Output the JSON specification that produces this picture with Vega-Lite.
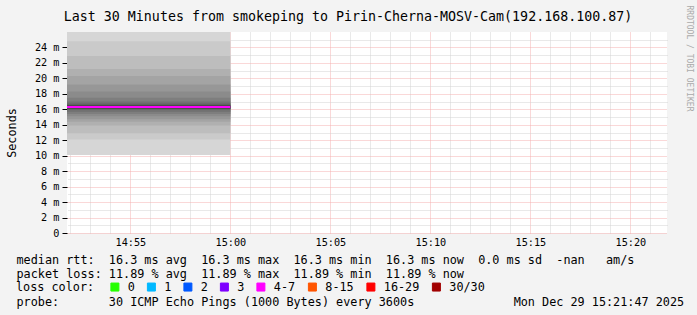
{
  "$schema": "https://vega.github.io/schema/vega-lite/v6.json",
  "width": 600,
  "height": 201,
  "autosize": "none",
  "padding": {"left": 67, "top": 32, "right": 30, "bottom": 82},
  "background": "#f3f3f3",
  "config": {
    "view": {"fill": "#ffffff", "stroke": null},
    "font": "DejaVu Sans Mono",
    "axis": {
      "zindex": 1,
      "labelColor": "#000000",
      "titleColor": "#000000",
      "titleFontWeight": "normal",
      "labelFont": "DejaVu Sans Mono",
      "titleFont": "DejaVu Sans Mono",
      "gridOpacity": 1,
      "domain": false
    }
  },
  "title": {
    "text": "Last 30 Minutes from smokeping to Pirin-Cherna-MOSV-Cam(192.168.100.87)",
    "font": "DejaVu Sans Mono",
    "fontSize": 13.3,
    "fontWeight": "normal",
    "color": "#000000",
    "anchor": "middle",
    "frame": "group",
    "offset": -29,
    "baseline": "alphabetic",
    "dx": -19
  },
  "datasets": {
    "smoke": [
      {"start": "2025-12-29T14:00:00", "end": "2025-12-29T15:00:00", "level": 2, "lo": 10.1, "hi": 27.0},
      {"start": "2025-12-29T14:00:00", "end": "2025-12-29T15:00:00", "level": 3, "lo": 12.1, "hi": 24.8},
      {"start": "2025-12-29T14:00:00", "end": "2025-12-29T15:00:00", "level": 4, "lo": 12.9, "hi": 22.9},
      {"start": "2025-12-29T14:00:00", "end": "2025-12-29T15:00:00", "level": 5, "lo": 13.9, "hi": 21.2},
      {"start": "2025-12-29T14:00:00", "end": "2025-12-29T15:00:00", "level": 6, "lo": 14.4, "hi": 20.3},
      {"start": "2025-12-29T14:00:00", "end": "2025-12-29T15:00:00", "level": 7, "lo": 14.7, "hi": 19.2},
      {"start": "2025-12-29T14:00:00", "end": "2025-12-29T15:00:00", "level": 8, "lo": 15.1, "hi": 18.3},
      {"start": "2025-12-29T14:00:00", "end": "2025-12-29T15:00:00", "level": 9, "lo": 15.4, "hi": 17.5},
      {"start": "2025-12-29T14:00:00", "end": "2025-12-29T15:00:00", "level": 10, "lo": 15.7, "hi": 17.0},
      {"start": "2025-12-29T14:00:00", "end": "2025-12-29T15:00:00", "level": 11, "lo": 15.95, "hi": 16.75},
      {"start": "2025-12-29T14:00:00", "end": "2025-12-29T15:00:00", "level": 12, "lo": 16.05, "hi": 16.6},
      {"start": "2025-12-29T14:00:00", "end": "2025-12-29T15:00:00", "level": 13, "lo": 16.1, "hi": 16.5},
      {"start": "2025-12-29T14:00:00", "end": "2025-12-29T15:00:00", "level": 14, "lo": 16.15, "hi": 16.45},
      {"start": "2025-12-29T14:00:00", "end": "2025-12-29T15:00:00", "level": 15, "lo": 16.2, "hi": 16.4}
    ],
    "median": [
      {"start": "2025-12-29T14:00:00", "end": "2025-12-29T15:00:00", "median": 16.3, "loss": "4-7"}
    ]
  },
  "resolve": {"axis": {"x": "independent", "y": "independent"}},
  "layer": [
    {
      "data": {"name": "smoke"},
      "mark": {"type": "rect", "clip": true},
      "encoding": {
        "x": {
          "field": "start", "type": "temporal",
          "scale": {"domain": [
            {"year": 2025, "month": 12, "date": 29, "hours": 14, "minutes": 51, "seconds": 50},
            {"year": 2025, "month": 12, "date": 29, "hours": 15, "minutes": 21, "seconds": 50}
          ]},
          "axis": {
            "orient": "top", "grid": true, "gridColor": "#d2d2d2", "gridDash": [1, 1],
            "ticks": false, "labels": false, "domain": false,
            "title": "probe:\u00a0\u00a0\u00a0\u00a0\u00a0\u00a0\u00a030 ICMP Echo Pings (1000 Bytes) every 3600s\u00a0\u00a0\u00a0\u00a0\u00a0\u00a0\u00a0\u00a0\u00a0\u00a0\u00a0\u00a0\u00a0\u00a0Mon Dec 29 15:21:47 2025",
            "titleFontSize": 11.8, "titleAlign": "left", "titleX": -51, "titleY": 273.3,
            "titleBaseline": "alphabetic", "titleAngle": 0,
            "values": [
              {"year": 2025, "month": 12, "date": 29, "hours": 14, "minutes": 52},
              {"year": 2025, "month": 12, "date": 29, "hours": 14, "minutes": 53},
              {"year": 2025, "month": 12, "date": 29, "hours": 14, "minutes": 54},
              {"year": 2025, "month": 12, "date": 29, "hours": 14, "minutes": 56},
              {"year": 2025, "month": 12, "date": 29, "hours": 14, "minutes": 57},
              {"year": 2025, "month": 12, "date": 29, "hours": 14, "minutes": 58},
              {"year": 2025, "month": 12, "date": 29, "hours": 14, "minutes": 59},
              {"year": 2025, "month": 12, "date": 29, "hours": 15, "minutes": 1},
              {"year": 2025, "month": 12, "date": 29, "hours": 15, "minutes": 2},
              {"year": 2025, "month": 12, "date": 29, "hours": 15, "minutes": 3},
              {"year": 2025, "month": 12, "date": 29, "hours": 15, "minutes": 4},
              {"year": 2025, "month": 12, "date": 29, "hours": 15, "minutes": 6},
              {"year": 2025, "month": 12, "date": 29, "hours": 15, "minutes": 7},
              {"year": 2025, "month": 12, "date": 29, "hours": 15, "minutes": 8},
              {"year": 2025, "month": 12, "date": 29, "hours": 15, "minutes": 9},
              {"year": 2025, "month": 12, "date": 29, "hours": 15, "minutes": 11},
              {"year": 2025, "month": 12, "date": 29, "hours": 15, "minutes": 12},
              {"year": 2025, "month": 12, "date": 29, "hours": 15, "minutes": 13},
              {"year": 2025, "month": 12, "date": 29, "hours": 15, "minutes": 14},
              {"year": 2025, "month": 12, "date": 29, "hours": 15, "minutes": 16},
              {"year": 2025, "month": 12, "date": 29, "hours": 15, "minutes": 17},
              {"year": 2025, "month": 12, "date": 29, "hours": 15, "minutes": 18},
              {"year": 2025, "month": 12, "date": 29, "hours": 15, "minutes": 19},
              {"year": 2025, "month": 12, "date": 29, "hours": 15, "minutes": 21}
            ]
          }
        },
        "x2": {"field": "end"},
        "y": {
          "field": "lo", "type": "quantitative",
          "scale": {"domain": [0, 26], "nice": false, "zero": true},
          "axis": {
            "orient": "right", "grid": true, "gridColor": "#d2d2d2", "gridDash": [1, 1],
            "ticks": false, "labels": false, "domain": false,
            "values": [1, 3, 5, 7, 9, 11, 13, 15, 17, 19, 21, 23, 25],
            "title": "RRDTOOL / TOBI OETIKER",
            "titleAngle": 90, "titleX": 21, "titleY": -27, "titleAlign": "left",
            "titleBaseline": "middle", "titleFontSize": 8, "titleColor": "#aaaaaa"
          }
        },
        "y2": {"field": "hi"},
        "fill": {
          "field": "level", "type": "quantitative",
          "scale": {"domain": [1, 15], "range": ["#e3e3e3", "#323232"], "interpolate": "rgb"},
          "legend": null
        }
      }
    },
    {
      "data": {"name": "median"},
      "mark": {"type": "rule", "strokeWidth": 2, "clip": true},
      "encoding": {
        "x": {
          "field": "start", "type": "temporal",
          "axis": {
            "orient": "bottom", "grid": true, "gridColor": "#f5b0b0", "gridDash": [1, 1],
            "ticks": false, "domain": false, "format": "%H:%M",
            "labelFontSize": 10.2, "labelPadding": 4,
            "values": [
              {"year": 2025, "month": 12, "date": 29, "hours": 14, "minutes": 55},
              {"year": 2025, "month": 12, "date": 29, "hours": 15, "minutes": 0},
              {"year": 2025, "month": 12, "date": 29, "hours": 15, "minutes": 5},
              {"year": 2025, "month": 12, "date": 29, "hours": 15, "minutes": 10},
              {"year": 2025, "month": 12, "date": 29, "hours": 15, "minutes": 15},
              {"year": 2025, "month": 12, "date": 29, "hours": 15, "minutes": 20}
            ],
            "title": [
              "median rtt:\u00a0\u00a016.3 ms avg\u00a0\u00a016.3 ms max\u00a0\u00a016.3 ms min\u00a0\u00a016.3 ms now\u00a0\u00a00.0 ms sd\u00a0\u00a0-nan\u00a0\u00a0\u00a0am/s",
              "packet loss:\u00a011.89 % avg\u00a0\u00a011.89 % max\u00a0\u00a011.89 % min\u00a0\u00a011.89 % now"
            ],
            "titleFontSize": 11.8, "titleAlign": "left", "titleX": -51, "titleY": 30.3,
            "titleBaseline": "alphabetic", "titleLineHeight": 14
          }
        },
        "x2": {"field": "end"},
        "y": {
          "field": "median", "type": "quantitative",
          "axis": {
            "orient": "left", "grid": true, "gridColor": "#f5b0b0", "gridDash": [1, 1],
            "ticks": true, "tickSize": 5, "tickColor": "#000000", "domain": false,
            "values": [0, 2, 4, 6, 8, 10, 12, 14, 16, 18, 20, 22, 24],
            "labelExpr": "datum.value == 0 ? '0' : datum.value + ' m'",
            "labelFontSize": 10.2, "labelPadding": 3,
            "title": "Seconds", "titleFontSize": 11.8, "titleX": -56, "titleY": 100.5,
            "titleAngle": 270, "titleAlign": "center", "titleBaseline": "middle"
          }
        },
        "color": {
          "field": "loss", "type": "nominal",
          "scale": {
            "domain": ["0", "1", "2", "3", "4-7", "8-15", "16-29", "30/30"],
            "range": ["#26ff00", "#00b8ff", "#0059ff", "#7e00ff", "#ff00ff", "#ff5500", "#ff0000", "#a10000"]
          },
          "legend": {
            "orient": "none", "legendX": -51, "legendY": 249,
            "direction": "horizontal", "columns": 8,
            "title": "loss color:", "titleOrient": "left", "titleFont": "DejaVu Sans Mono",
            "titleFontSize": 11.8, "titleFontWeight": "normal", "titleColor": "#000000",
            "titlePadding": 14, "titleBaseline": "middle", "titleAnchor": "middle",
            "symbolType": "square", "symbolSize": 64, "symbolStrokeWidth": 1,
            "labelFont": "DejaVu Sans Mono", "labelFontSize": 11.8, "labelColor": "#000000",
            "labelOffset": 7, "columnPadding": 9.5, "padding": 0,
            "encode": {
              "symbols": {
                "update": {
                  "fill": {"scale": "color", "field": "value"},
                  "stroke": {"value": "#000000"},
                  "strokeWidth": {"value": 1},
                  "opacity": {"value": 1},
                  "shape": {"value": "square"}
                }
              }
            }
          }
        }
      }
    },
    {
      "mark": {"type": "rule", "color": "#000000", "strokeWidth": 1, "xOffset": -4, "x2Offset": 3, "yOffset": 0.5},
      "encoding": {
        "x": {"datum": {"year": 2025, "month": 12, "date": 29, "hours": 14, "minutes": 51, "seconds": 50}, "type": "temporal", "axis": null},
        "x2": {"datum": {"year": 2025, "month": 12, "date": 29, "hours": 15, "minutes": 21, "seconds": 50}},
        "y": {"datum": 0, "type": "quantitative", "axis": null}
      }
    },
    {
      "mark": {"type": "rule", "color": "#000000", "strokeWidth": 1, "yOffset": 3, "y2Offset": -4, "xOffset": -0.5},
      "encoding": {
        "x": {"datum": {"year": 2025, "month": 12, "date": 29, "hours": 14, "minutes": 51, "seconds": 50}, "type": "temporal", "axis": null},
        "y": {"datum": 0, "type": "quantitative", "axis": null},
        "y2": {"datum": 26}
      }
    },
    {
      "mark": {"type": "point", "shape": "triangle-up", "size": 40, "filled": true, "color": "#7f1f1f", "opacity": 1, "yOffset": -4, "xOffset": -0.5},
      "encoding": {
        "x": {"datum": {"year": 2025, "month": 12, "date": 29, "hours": 14, "minutes": 51, "seconds": 50}, "type": "temporal", "axis": null},
        "y": {"datum": 26, "type": "quantitative", "axis": null}
      }
    },
    {
      "mark": {"type": "point", "shape": "triangle-right", "size": 40, "filled": true, "color": "#7f1f1f", "opacity": 1, "xOffset": 5, "yOffset": 0.5},
      "encoding": {
        "x": {"datum": {"year": 2025, "month": 12, "date": 29, "hours": 15, "minutes": 21, "seconds": 50}, "type": "temporal", "axis": null},
        "y": {"datum": 0, "type": "quantitative", "axis": null}
      }
    }
  ]
}
